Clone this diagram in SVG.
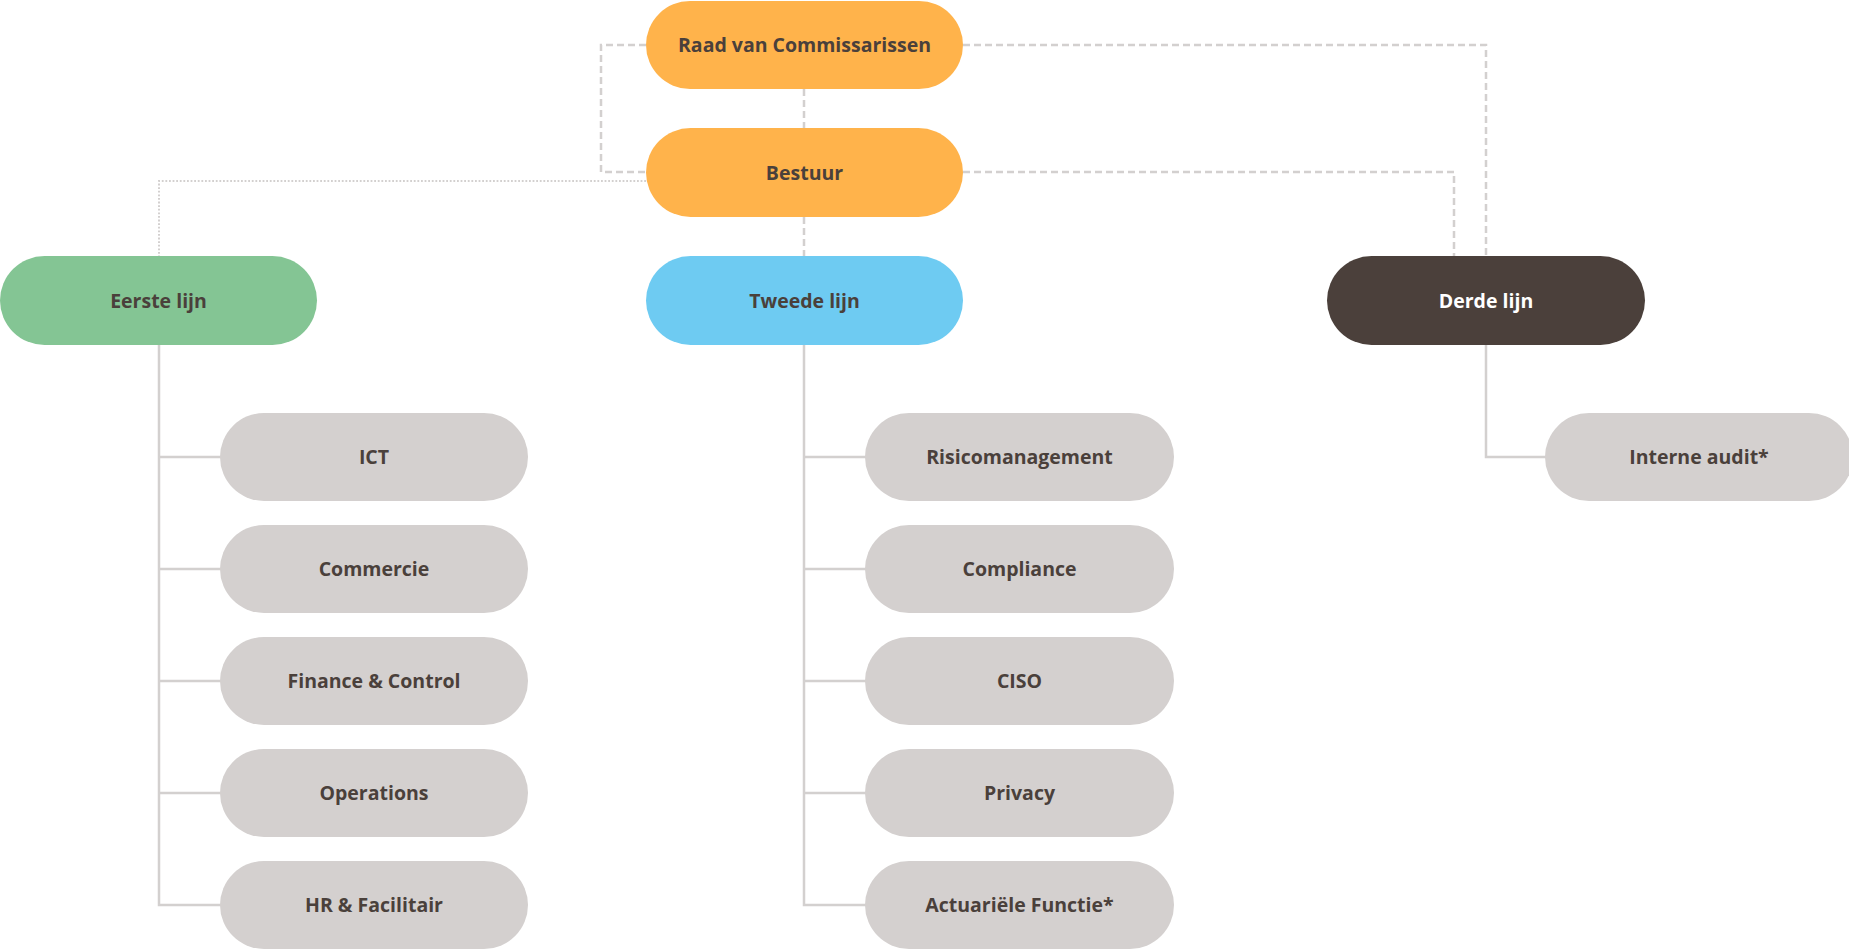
<svg xmlns="http://www.w3.org/2000/svg" width="1849" height="949" viewBox="0 0 1849 949">
<style>
.lbl{font-family:"Open Sans","Liberation Sans",sans-serif;font-weight:700;font-size:19.5px;fill:#4a403b;text-anchor:middle}
.wt{fill:#ffffff}
.solid{fill:none;stroke:#d3d0cf;stroke-width:2.5}
.dash{fill:none;stroke:#d3d0cf;stroke-width:2.5;stroke-dasharray:7 4}
.dot{fill:none;stroke:#d3d0cf;stroke-width:2;stroke-dasharray:1.8 1.8}
.org{fill:#ffb34b}
.grn{fill:#84c594}
.blu{fill:#6ecbf2}
.drk{fill:#4b403b}
.gry{fill:#d4d0cf}
</style>
<rect width="1849" height="949" fill="#ffffff"/>
<g id="connectors">
<path class="dash" d="M804,89 V128"/>
<path class="dash" d="M804,217 V256"/>
<path class="dash" d="M646,45 H601 V172 H646"/>
<path class="dash" d="M963,45 H1486 V256"/>
<path class="dash" d="M963,172 H1454 V256"/>
<path class="dot" d="M646,181 H159 V256"/>
<path class="solid" d="M159,345 V905 H221 M159,457 H221 M159,569 H221 M159,681 H221 M159,793 H221"/>
<path class="solid" d="M804,345 V905 H866 M804,457 H866 M804,569 H866 M804,681 H866 M804,793 H866"/>
<path class="solid" d="M1486,345 V457 H1546"/>
</g>
<g id="raad"><rect class="org" x="646" y="1" width="317" height="88" rx="44"/><text class="lbl" x="804.5" y="52">Raad van Commissarissen</text></g>
<g id="bestuur"><rect class="org" x="646" y="128" width="317" height="89" rx="44.5"/><text class="lbl" x="804.5" y="179.5">Bestuur</text></g>
<g id="eerste"><rect class="grn" x="0" y="256" width="317" height="89" rx="44.5"/><text class="lbl" x="158.5" y="307.5">Eerste lijn</text></g>
<g id="tweede"><rect class="blu" x="646" y="256" width="317" height="89" rx="44.5"/><text class="lbl" x="804.5" y="307.5">Tweede lijn</text></g>
<g id="derde"><rect class="drk" x="1327" y="256" width="318" height="89" rx="44.5"/><text class="lbl wt" x="1486" y="307.5">Derde lijn</text></g>
<g id="ict"><rect class="gry" x="220" y="413" width="308" height="88" rx="44"/><text class="lbl" x="374" y="464">ICT</text></g>
<g id="commercie"><rect class="gry" x="220" y="525" width="308" height="88" rx="44"/><text class="lbl" x="374" y="576">Commercie</text></g>
<g id="finance"><rect class="gry" x="220" y="637" width="308" height="88" rx="44"/><text class="lbl" x="374" y="688">Finance &amp; Control</text></g>
<g id="operations"><rect class="gry" x="220" y="749" width="308" height="88" rx="44"/><text class="lbl" x="374" y="800">Operations</text></g>
<g id="hr"><rect class="gry" x="220" y="861" width="308" height="88" rx="44"/><text class="lbl" x="374" y="912">HR &amp; Facilitair</text></g>
<g id="risico"><rect class="gry" x="865" y="413" width="309" height="88" rx="44"/><text class="lbl" x="1019.5" y="464">Risicomanagement</text></g>
<g id="compliance"><rect class="gry" x="865" y="525" width="309" height="88" rx="44"/><text class="lbl" x="1019.5" y="576">Compliance</text></g>
<g id="ciso"><rect class="gry" x="865" y="637" width="309" height="88" rx="44"/><text class="lbl" x="1019.5" y="688">CISO</text></g>
<g id="privacy"><rect class="gry" x="865" y="749" width="309" height="88" rx="44"/><text class="lbl" x="1019.5" y="800">Privacy</text></g>
<g id="actuariele"><rect class="gry" x="865" y="861" width="309" height="88" rx="44"/><text class="lbl" x="1019.5" y="912">Actuariële Functie*</text></g>
<g id="interne"><rect class="gry" x="1545" y="413" width="308" height="88" rx="44"/><text class="lbl" x="1699" y="464">Interne audit*</text></g>
</svg>
